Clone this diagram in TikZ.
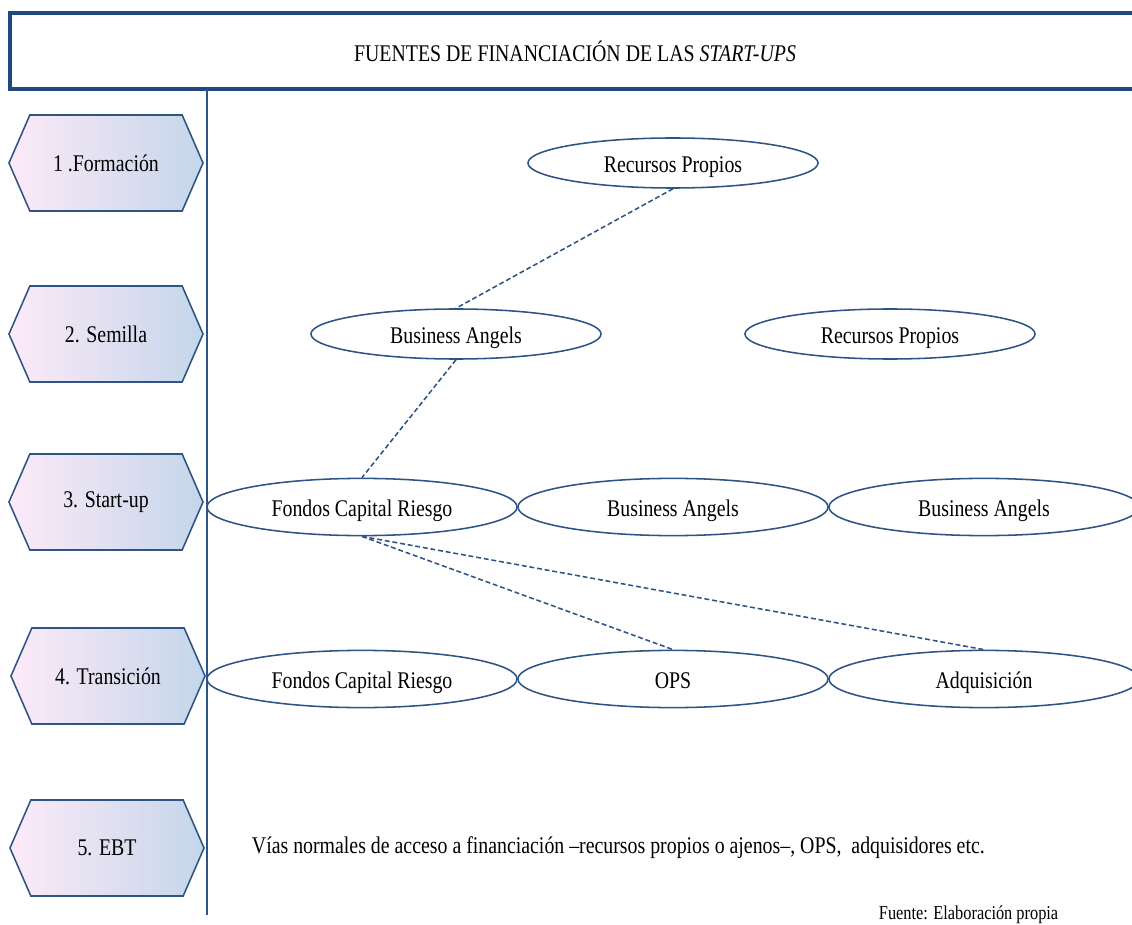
\documentclass[tikz,border=0pt]{standalone}
\usepackage{fontspec}
\setmainfont{Liberation Serif}[FakeStretch=0.83]
\usepackage{xcolor}
\usetikzlibrary{shapes,positioning}

\definecolor{hexpink}{RGB}{253,234,248}
\definecolor{hexblue}{RGB}{196,214,234}
\definecolor{lineblue}{RGB}{46,84,134}
\definecolor{titleblue}{RGB}{31,73,125}

\begin{document}
\begin{tikzpicture}[
    x=0.025cm, y=-0.025cm,
    stage/.style={shape=signal, signal to=west and east, signal pointer angle=133, draw=lineblue, line width=1.1pt, left color=hexpink, right color=hexblue, minimum width=4.85cm, minimum height=2.4cm, inner sep=0pt},
    source/.style={ellipse, draw=lineblue, line width=1.1pt, fill=white, minimum width=7.25cm, minimum height=1.25cm, inner sep=0pt, text height=13.5pt, text depth=0pt},
    wide/.style={source, minimum width=7.75cm, minimum height=1.43cm},
    title/.style={rectangle, draw=titleblue, line width=2.6pt, minimum width=28.25cm, minimum height=1.9cm},
    link/.style={draw=lineblue, line width=1.1pt, dash pattern=on 3.5pt off 2pt},
    every node/.style={font=\fontsize{17}{20}\selectfont}
]
    \clip (0,0) rectangle (1132,925);

    % Header
    \node [title] (title) at (575,51) {FUENTES DE FINANCIACIÓN DE LAS \textit{START-UPS}};

    % Separator between stages and sources
    \coordinate (axtop) at (207,89);
    \coordinate (axbot) at (207,915);
    \draw [draw=lineblue, line width=0.9pt] (axtop) -- (axbot);

    % Stages
    \node [stage] (form) at (106,163) {1 .Formación};
    \node [stage] (seed) at (106,334) {2. Semilla};
    \node [stage] (start) at (106,502) {3. Start-up};
    \node [stage] (trans) at (108,676) {4. Transición};
    \node [stage] (ebt) at (107,848) {5. EBT};

    % Sources per stage
    \node [source] (rp1) at (673,163) {Recursos Propios};
    \node [source] (ba2) at (456,334) {Business Angels};
    \node [source] (rp2) at (890,334) {Recursos Propios};
    \node [wide] (fcr3) at (362,507) {Fondos Capital Riesgo};
    \node [wide] (ba3a) at (673,507) {Business Angels};
    \node [wide] (ba3b) at (984,507) {Business Angels};
    \node [wide] (fcr4) at (362,679) {Fondos Capital Riesgo};
    \node [wide] (ops) at (673,679) {OPS};
    \node [wide] (adq) at (984,679) {Adquisición};

    % Paths between sources
    \draw [link] (rp1.south) -- (ba2.north);
    \draw [link] (ba2.south) -- (fcr3.north);
    \draw [link] (fcr3.south) -- (ops.north);
    \draw [link] (fcr3.south) -- (adq.north);

    % Notes
    \node [anchor=west] (note) at (247,848) {Vías normales de acceso a financiación –recursos propios o ajenos–, OPS,\ \ adquisidores etc.};
    \node [anchor=west, font=\fontsize{14}{16}\selectfont] (src) at (874,915) {Fuente: Elaboración propia};
\end{tikzpicture}
\end{document}
